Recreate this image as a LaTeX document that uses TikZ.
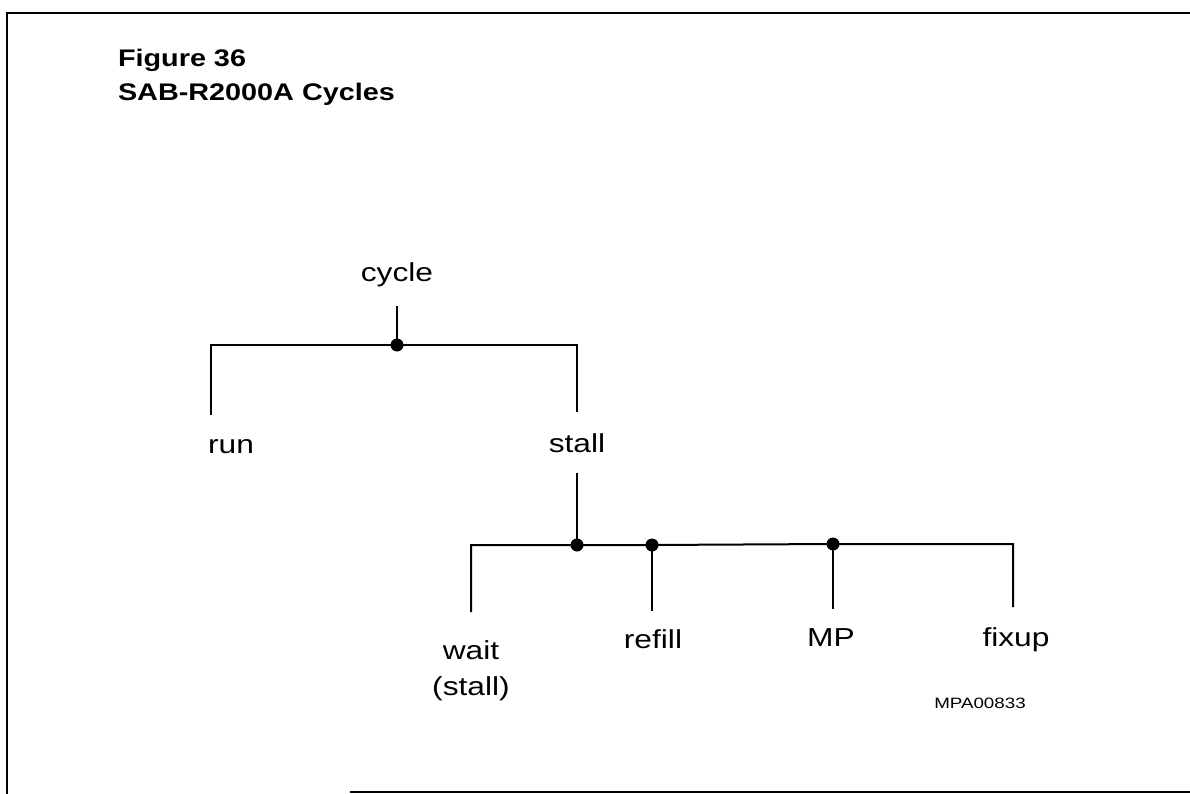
\documentclass[tikz,border=0pt]{standalone}
\usepackage{graphicx}
\usepackage{fontspec}
\setmainfont{Liberation Sans}
\usetikzlibrary{calc}
\newcommand{\wide}[1]{\scalebox{1.22}[1]{#1}}

\begin{document}
\begin{tikzpicture}[x=1pt, y=-1pt, line width=2pt,
  lbl/.style={font=\fontsize{26}{36}\selectfont, align=center, inner sep=0pt, anchor=base},
  jdot/.style={circle, fill=black, inner sep=0pt, minimum size=13pt}]
  \useasboundingbox (0,0) rectangle (1190,794);
  % frame
  \draw[line width=1.8pt] (7,794) -- (7,13) -- (1190,13);
  \draw[line width=1.8pt] (350,792) -- (1190,792);
  \node[font=\bfseries\fontsize{24}{28}\selectfont, inner sep=0pt, anchor=base west] (fignum) at (117,67) {\scalebox{1.2}[1]{Figure 36}};
  \node[font=\bfseries\fontsize{24}{28}\selectfont, inner sep=0pt, anchor=base west] (figtitle) at (117,101) {\scalebox{1.2}[1]{SAB-R2000A Cycles}};
  % upper level
  \node[lbl] (cycle) at (397,281) {\wide{cycle}};
  \coordinate (cyclej) at (397,345);
  \coordinate (runleg) at (211,415);
  \coordinate (stallleg) at (577,412);
  \node[lbl] (run) at (231,453) {\wide{run}};
  \node[lbl] (stall) at (577,452) {\wide{stall}};
  \draw[shorten <=19pt] (cycle.south) -- (cyclej);
  \draw (runleg) |- (cyclej) -| (stallleg);
  \node[jdot] at (cyclej) {};
  % lower level
  \coordinate (stallj) at (577,545);
  \coordinate (refillj) at (652,545);
  \coordinate (mpj) at (833,544);
  \coordinate (waitleg) at (471,612);
  \coordinate (refillleg) at (652,611);
  \coordinate (mpleg) at (833,609);
  \coordinate (fixupleg) at (1013,607);
  \node[lbl] (wait) at (471,695) {\wide{wait}\\\wide{(stall)}};
  \node[lbl] (refill) at (653,648) {\wide{refill}};
  \node[lbl] (mp) at (831,646) {\wide{MP}};
  \node[lbl] (fixup) at (1016,646) {\wide{fixup}};
  \draw[shorten <=20pt] (stall.south) -- (stallj);
  \draw (waitleg) |- (stallj) -- (refillj) -- (mpj) -| (fixupleg);
  \draw (refillj) -- (refillleg);
  \draw (mpj) -- (mpleg);
  \foreach \j in {stallj, refillj, mpj}
    \node[jdot] at (\j) {};
  \node[font=\fontsize{15}{18}\selectfont, inner sep=0pt] (figid) at (980,703) {\scalebox{1.25}[1]{MPA00833}};
\end{tikzpicture}
\end{document}
